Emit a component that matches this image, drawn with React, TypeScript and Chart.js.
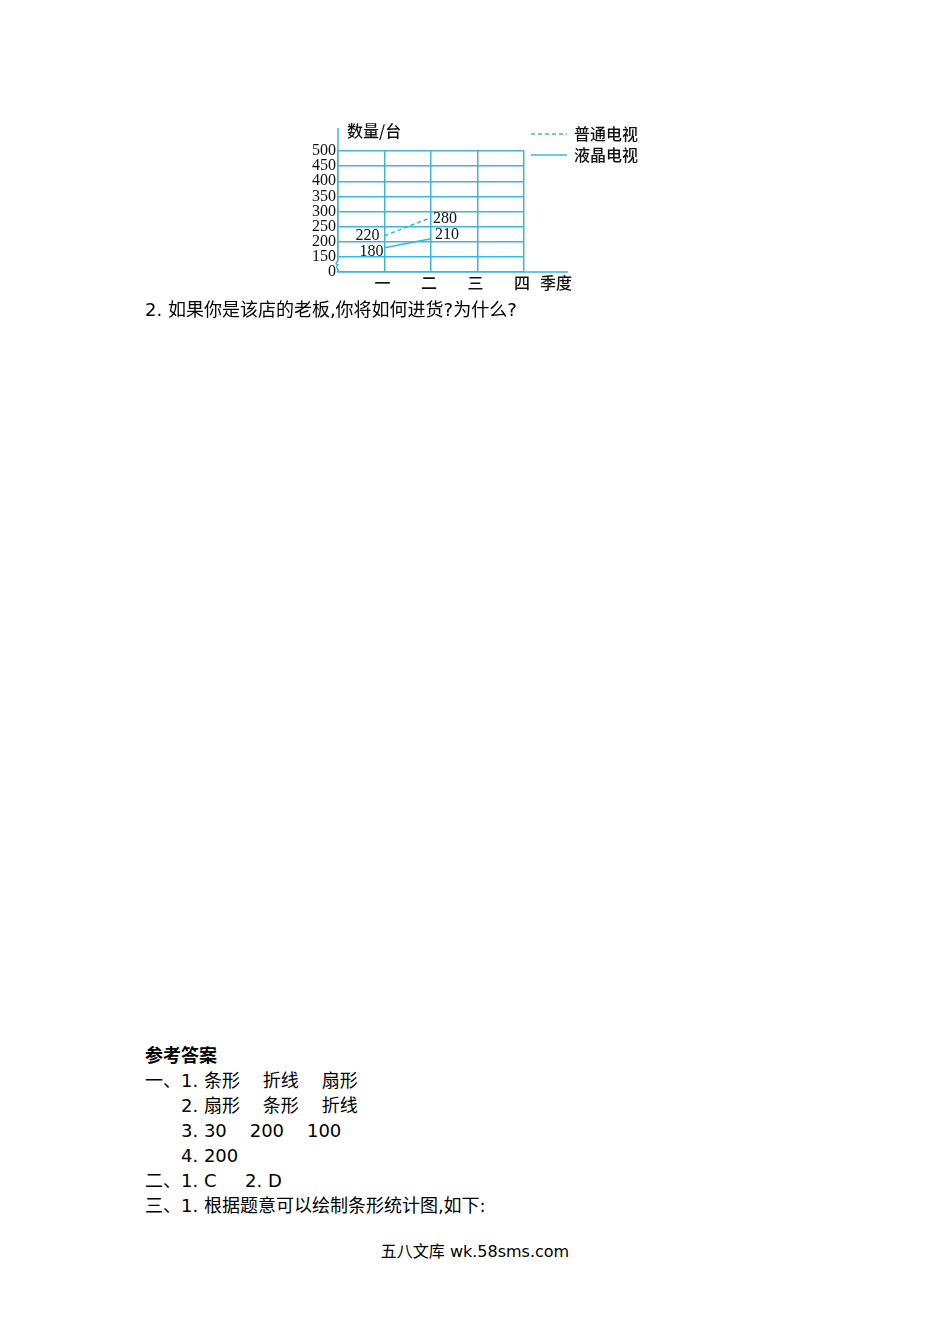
import React, { useEffect, useRef } from "react";
import { Chart, registerables } from "chart.js";

Chart.register(...registerables);

// chart data
const quarters = ["一", "二", "三", "四"];
const seriesNames = ["普通电视", "液晶电视"];
const normalTv = [220, 280, null, null];
const lcdTv = [180, 210, null, null];
const yMin = 100; // drawn as "0" (axis is broken below 150)
const yMax = 500;
const yStep = 50;

const blue = "#3cb6df";
const ink = "#111";
const cjk = '"Noto Sans CJK SC", "Noto Sans", sans-serif';
const serif = '"Liberation Serif", "DejaVu Serif", serif';

// label placement per series / point
const labelPlace = [
  [
    { dx: -5, dy: 0, align: "right" },
    { dx: 2, dy: 1, align: "left" },
  ],
  [
    { dx: -1, dy: 4, align: "right" },
    { dx: 4, dy: -4, align: "left" },
  ],
];

const toPoints = (arr: (number | null)[]) =>
  arr
    .map((v, i) => (v == null ? null : { x: i + 1, y: v }))
    .filter((p) => p !== null) as { x: number; y: number }[];

const extrasPlugin = {
  id: "extras",
  afterDraw(chart: any) {
    const { ctx } = chart;
    const { left, right, top, bottom } = chart.chartArea;
    ctx.save();
    ctx.strokeStyle = blue;
    ctx.lineWidth = 1.5;

    // axis extensions
    ctx.beginPath();
    ctx.moveTo(left, top);
    ctx.lineTo(left, top - 23);
    ctx.moveTo(right, bottom);
    ctx.lineTo(right + 44, bottom);
    ctx.stroke();

    // axis break
    const yb = bottom - 7;
    ctx.fillStyle = "#fff";
    ctx.fillRect(left - 1.5, yb - 4, 3, 8);
    ctx.beginPath();
    ctx.moveTo(left, yb - 4);
    ctx.quadraticCurveTo(left - 4, yb - 1.5, left, yb);
    ctx.quadraticCurveTo(left - 3, yb + 2, left, yb + 4);
    ctx.stroke();

    // axis titles
    ctx.fillStyle = ink;
    ctx.font = `500 16px ${cjk}`;
    ctx.textBaseline = "middle";
    ctx.textAlign = "left";
    ctx.fillText("数量/台", left + 9, top - 20);
    ctx.fillText("季度", right + 16, bottom + 11);

    // legend
    chart.data.datasets.forEach((ds: any, i: number) => {
      const y = top - 17 + i * 21;
      ctx.save();
      ctx.strokeStyle = ds.borderColor;
      ctx.lineWidth = 1.5;
      ctx.setLineDash(ds.borderDash || []);
      ctx.beginPath();
      ctx.moveTo(right + 7, y);
      ctx.lineTo(right + 43, y);
      ctx.stroke();
      ctx.restore();
      ctx.fillText(ds.label, right + 50, y);
    });

    // value labels
    ctx.font = `16px ${serif}`;
    chart.data.datasets.forEach((ds: any, i: number) => {
      const meta = chart.getDatasetMeta(i);
      meta.data.forEach((pt: any, j: number) => {
        const place = labelPlace[i][j];
        ctx.textAlign = place.align;
        ctx.fillText(String(ds.data[j].y), pt.x + place.dx, pt.y + place.dy);
      });
    });
    ctx.restore();
  },
};

function TvChart(): JSX.Element {
  const chartRef = useRef<HTMLCanvasElement>(null);
  const chartInstance = useRef<Chart | null>(null);

  useEffect(() => {
    const ctx = chartRef.current?.getContext("2d");
    if (!ctx) return;
    if (chartInstance.current) chartInstance.current.destroy();

    const gridOpts = { color: blue, lineWidth: 1.5, drawTicks: false };
    const borderOpts = { color: blue, width: 1.5 };

    chartInstance.current = new Chart(ctx, {
      type: "line",
      data: {
        datasets: [
          {
            label: seriesNames[0],
            data: toPoints(normalTv),
            borderColor: blue,
            borderWidth: 1.5,
            borderDash: [4, 3],
            pointRadius: 0,
          },
          {
            label: seriesNames[1],
            data: toPoints(lcdTv),
            borderColor: blue,
            borderWidth: 1.5,
            pointRadius: 0,
          },
        ],
      },
      options: {
        animation: false,
        responsive: true,
        maintainAspectRatio: false,
        layout: { padding: { top: 41, right: 136, left: 0, bottom: 0 } },
        plugins: {
          legend: { display: false },
          tooltip: { enabled: false },
        },
        scales: {
          x: {
            type: "linear",
            min: 0,
            max: quarters.length,
            afterFit: (s: any) => {
              s.height = 28;
            },
            ticks: {
              stepSize: 1,
              padding: 1,
              labelOffset: -2,
              autoSkip: false,
              maxRotation: 0,
              color: ink,
              font: { family: cjk, size: 16, weight: 500 },
              callback: (v: any) => quarters[Number(v) - 1] ?? "",
            },
            grid: gridOpts,
            border: borderOpts,
          },
          y: {
            min: yMin,
            max: yMax,
            afterFit: (s: any) => {
              s.width = 48;
            },
            ticks: {
              stepSize: yStep,
              autoSkip: false,
              padding: 2,
              color: ink,
              font: { family: serif, size: 16 },
              callback: (v: any) => (Number(v) === yMin ? "0" : String(v)),
            },
            grid: gridOpts,
            border: borderOpts,
          },
        },
      },
      plugins: [extrasPlugin],
    });

    return () => {
      if (chartInstance.current) {
        chartInstance.current.destroy();
        chartInstance.current = null;
      }
    };
  }, []);

  return (
    <div style={{ position: "absolute", left: 290, top: 110, width: 370, height: 190 }}>
      <canvas ref={chartRef}></canvas>
    </div>
  );
}

const textFont = '"DejaVu Sans", "Noto Sans CJK SC", sans-serif';

function App(): JSX.Element {
  const line = { height: 25, lineHeight: "25px", whiteSpace: "pre" as const };
  const indent = { ...line, paddingLeft: 36 };
  return (
    <div
      style={{
        position: "absolute",
        left: 0,
        top: 0,
        width: 950,
        height: 1344,
        background: "#fff",
        color: "#000",
        fontFamily: textFont,
        fontSize: 18,
      }}
    >
      <TvChart />
      <div style={{ position: "absolute", left: 145, top: 297, ...line }}>
        2. 如果你是该店的老板,你将如何进货?为什么?
      </div>
      <div style={{ position: "absolute", left: 145, top: 1043 }}>
        <div style={{ ...line, fontWeight: 700 }}>参考答案</div>
        <div style={line}>一、1. 条形    折线    扇形</div>
        <div style={indent}>2. 扇形    条形    折线</div>
        <div style={indent}>3. 30    200    100</div>
        <div style={indent}>4. 200</div>
        <div style={line}>二、1. C     2. D</div>
        <div style={line}>三、1. 根据题意可以绘制条形统计图,如下:</div>
      </div>
      <div
        style={{
          position: "absolute",
          left: 0,
          top: 1242,
          width: 950,
          textAlign: "center",
          fontSize: 16,
          lineHeight: "20px",
        }}
      >
        五八文库 wk.58sms.com
      </div>
    </div>
  );
}

export default App;
